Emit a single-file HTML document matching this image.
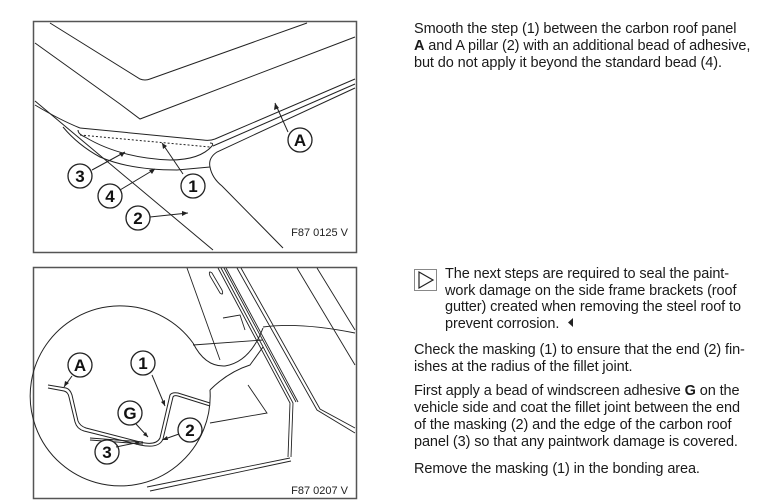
<!DOCTYPE html>
<html><head><meta charset="utf-8"><style>
body{margin:0;width:784px;height:503px;background:#fff;position:relative;overflow:hidden;font-family:"Liberation Sans",sans-serif;color:#1a1a1a}
.t{position:absolute;font-size:14.5px;line-height:17px;white-space:nowrap;letter-spacing:-0.1px}
svg{position:absolute;left:0;top:0}
</style></head><body>
<svg width="784" height="503" viewBox="0 0 784 503" fill="none" stroke="#222" stroke-width="1">
<rect x="33.5" y="21.5" width="323" height="231" stroke="#555" stroke-width="1.5"/>
<path d="M50 23 L140 79 Q145 81 150 79 L307 23"/>
<path d="M35 43 L120 104 L140 119 L355 37"/>
<path d="M35 101 L213 250"/>
<path d="M35 105 Q60 120 80 128"/>
<path d="M80 128 L203 140 Q210 141 215 139 L355 79"/>
<path d="M355 84 L213 146"/>
<path d="M355 88 L217 152 Q208 158 210 167 Q212 178 222 186 L283 248"/>
<path d="M78 130 Q78 134 85 137 Q120 158 170 160 Q200 160 212 146 Q214 143 210 143"/>
<path d="M80 135 L210 147" stroke-dasharray="2,2"/>
<path d="M63 127 Q78 145 100 157 Q130 170 177 170 L210 167"/>
<g stroke-width="1.3" fill="#fff">
<circle cx="300" cy="140" r="12"/><circle cx="80" cy="176" r="12"/><circle cx="110" cy="196" r="12"/><circle cx="193" cy="186" r="12"/><circle cx="138" cy="218" r="12"/>
</g>
<g>
<path d="M288 132 L275 103"/><path d="M92 170 L125 152"/><path d="M120 190 L155 169"/><path d="M183 174 L162 143"/><path d="M150 217 L188 213"/>
</g>
<g fill="#222" stroke="none">
<path d="M275 103 l-1 7 l5 -2z"/><path d="M125 152 l-6 1 l3 4z"/><path d="M155 169 l-6 1 l3 4z"/><path d="M162 143 l1 6 l4 -3z"/><path d="M188 213 l-6 -2 l0 5z"/>
</g>
<rect x="33.5" y="267.5" width="323" height="231" stroke="#555" stroke-width="1.5"/>
<g stroke-width="0.9">
<path d="M187 268 L220 360"/><path d="M297 268 L355 365"/><path d="M317 268 L355 330"/>
<path d="M218 268 L290 403 L288 457"/><path d="M221 268 L293 403 L291 457"/><path d="M224 268 L296 402"/><path d="M226 268 L298 402"/>
<path d="M237 268 L317 410 L355 433"/><path d="M241 268 L320 409 L355 428"/>
<path d="M193 345 L263 340"/><path d="M263 327 Q300 322 355 333"/>
<path d="M210 423 L267 413 L248 385"/>
<path d="M223 318 L240 315 L245 330"/>
<path d="M212 273 Q208 270 210 276 L220 293 Q224 296 222 290z"/>
<path d="M147 487 L290 458"/><path d="M150 491 L291 461"/>
</g>
<path d="M193 343 Q205 367 225 366 Q250 362 263 328 M210 390 Q228 372 250 365 L263 347" />
<path d="M193 343 A90 90 0 1 0 210 390" fill="none"/>
<path d="M48 385 L66 388 Q70 389 72 395 L78 421 Q80 426 86 428 L140 442 Q156 446 160 438 L170 395 Q172 392 178 393 L210 403"/>
<path d="M48 388 L64 391 Q68 392 69 397 L75 422 Q77 429 84 431 L140 445 Q159 449 163 439 L173 397 Q174 395 178 396 L210 406"/>
<path d="M90 438 L143 442 M90 440 L143 444"/>
<g stroke-width="1.3" fill="#fff">
<circle cx="80" cy="365" r="12"/><circle cx="143" cy="363" r="12"/><circle cx="130" cy="413" r="12"/><circle cx="190" cy="430" r="12"/><circle cx="107" cy="452" r="12"/>
</g>
<path d="M72 376 L64 387"/><path d="M152 375 L165 406"/><path d="M136 424 L148 437"/><path d="M179 434 L162 440"/><path d="M116 447 L140 442"/>
<g fill="#222" stroke="none">
<path d="M64 387 l1 -6 l4 2z"/><path d="M165 406 l-4 -4 l4 -2z"/><path d="M148 437 l-5 -2 l3 -3z"/><path d="M162 440 l5 -4 l1 4z"/><path d="M140 442 l-5 -1 l1 4z"/>
</g>
<rect x="414.5" y="269.5" width="22" height="21" stroke="#888"/>
<path d="M419 272 L433 280 L419 288z" stroke="#222" stroke-width="1.2"/>
<path d="M573 318 L568 322.5 L573 327z" fill="#222" stroke="none"/>
</svg>
<svg width="784" height="503">
<g font-family="Liberation Sans, sans-serif" font-weight="bold" font-size="17" text-anchor="middle" fill="#111">
<text x="300" y="146">A</text><text x="80" y="182">3</text><text x="110" y="202">4</text><text x="193" y="192">1</text><text x="138" y="224">2</text>
<text x="80" y="371">A</text><text x="143" y="369">1</text><text x="130" y="419">G</text><text x="190" y="436">2</text><text x="107" y="458">3</text>
</g>
<g font-family="Liberation Sans, sans-serif" font-size="11" text-anchor="end" fill="#222">
<text x="348" y="236">F87 0125 V</text><text x="348" y="494">F87 0207 V</text>
</g>
</svg>
<div class="t" style="left:414px;top:21px">Smooth the step (1) between the carbon roof panel</div>
<div class="t" style="left:414px;top:38px"><b>A</b> and A pillar (2) with an additional bead of adhesive,</div>
<div class="t" style="left:414px;top:55px">but do not apply it beyond the standard bead (4).</div>
<div class="t" style="left:445px;top:266px">The next steps are required to seal the paint-</div>
<div class="t" style="left:445px;top:283px">work damage on the side frame brackets (roof</div>
<div class="t" style="left:445px;top:299px">gutter) created when removing the steel roof to</div>
<div class="t" style="left:445px;top:316px">prevent corrosion.</div>
<div class="t" style="left:414px;top:342px">Check the masking (1) to ensure that the end (2) fin-</div>
<div class="t" style="left:414px;top:359px">ishes at the radius of the fillet joint.</div>
<div class="t" style="left:414px;top:383px">First apply a bead of windscreen adhesive <b>G</b> on the</div>
<div class="t" style="left:414px;top:400px">vehicle side and coat the fillet joint between the end</div>
<div class="t" style="left:414px;top:417px">of the masking (2) and the edge of the carbon roof</div>
<div class="t" style="left:414px;top:434px">panel (3) so that any paintwork damage is covered.</div>
<div class="t" style="left:414px;top:461px">Remove the masking (1) in the bonding area.</div>
</body></html>
